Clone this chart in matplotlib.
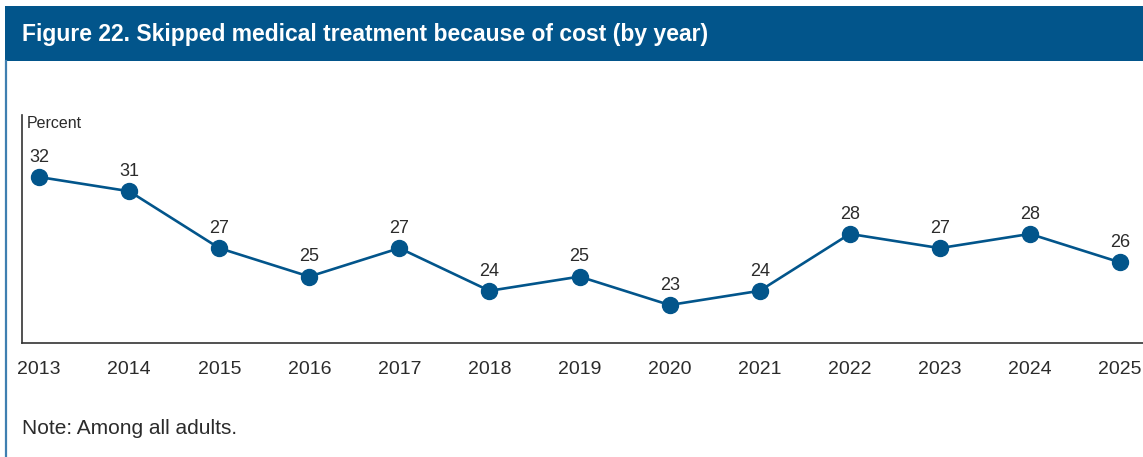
import matplotlib
matplotlib.use("Agg")
import matplotlib.pyplot as plt
from matplotlib.patches import Rectangle
from matplotlib.lines import Line2D

years = [2013, 2014, 2015, 2016, 2017, 2018, 2019, 2020, 2021, 2022, 2023, 2024, 2025]
skipped_pct = [32, 31, 27, 25, 27, 24, 25, 23, 24, 28, 27, 28, 26]

title = "Figure 22. Skipped medical treatment because of cost (by year)"
note = "Note: Among all adults."

BLUE = "#02558b"
TEXT = "#2b2b2b"
FONT = ["Liberation Sans", "DejaVu Sans"]

W, H = 1143, 457
fig = plt.figure(figsize=(W / 100, H / 100), dpi=100)

# header band and left rule
fig.patches.append(Rectangle((5 / W, 1 - 61 / H), 1, 55 / H, transform=fig.transFigure,
                             facecolor=BLUE, edgecolor="none"))
fig.lines.append(Line2D([6 / W, 6 / W], [0, 1 - 61 / H], transform=fig.transFigure,
                        color="#3f7fb0", linewidth=1.6))
fig.text(22 / W, 1 - 35 / H, title, color="white", fontsize=16.5, fontweight="bold",
         family=FONT, va="center", ha="left")

ax = fig.add_axes([22 / W, 1 - 343 / H, (W - 22) / W, 228 / H])
ax.plot(years, skipped_pct, color=BLUE, linewidth=1.9, marker="o", markersize=11.5,
        markerfacecolor=BLUE, markeredgecolor=BLUE, clip_on=False, zorder=3)
for x, y in zip(years, skipped_pct):
    ax.annotate(str(y), (x, y), xytext=(0, 8), textcoords="offset points",
                ha="center", va="bottom", fontsize=13, color=TEXT, family=FONT)

ax.set_xlim(2012.81, 2025.255)
ax.set_ylim(20.33, 36.36)
ax.set_xticks(years)
ax.set_xticklabels([str(y) for y in years], fontsize=14, color=TEXT, family=FONT)
ax.set_yticks([])
ax.tick_params(axis="x", length=0, pad=13)
for side in ("top", "right"):
    ax.spines[side].set_visible(False)
for side in ("left", "bottom"):
    ax.spines[side].set_color("#333333")
    ax.spines[side].set_linewidth(1.2)

ax.text(5 / (W - 22), 0.995, "Percent", transform=ax.transAxes, ha="left", va="top",
        fontsize=11.5, color=TEXT, family=FONT)

fig.text(22 / W, 1 - 428 / H, note, fontsize=15, color=TEXT, family=FONT,
         ha="left", va="center")

fig.savefig("out.png", dpi=100)
